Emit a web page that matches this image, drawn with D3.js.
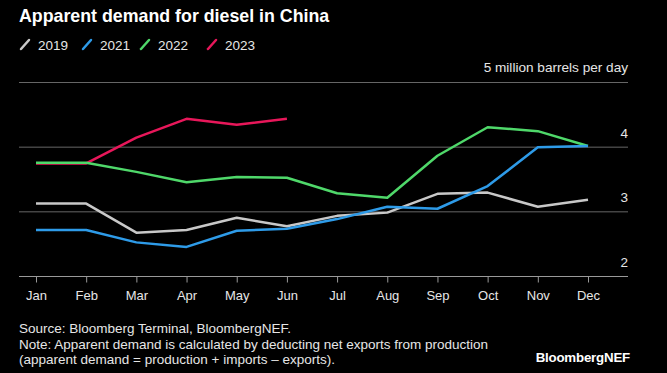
<!DOCTYPE html>
<html>
<head>
<meta charset="utf-8">
<script src="https://cdn.jsdelivr.net/npm/d3@7"></script>
<style>
  html, body { margin: 0; padding: 0; background: #000; }
  svg { display: block; }
</style>
</head>
<body>
<div id="chart"></div>
<script>
const months = ["Jan", "Feb", "Mar", "Apr", "May", "Jun", "Jul", "Aug", "Sep", "Oct", "Nov", "Dec"];
const years = ["2019", "2021", "2022", "2023"];
const colors = ["#c8c8c8", "#2e9be8", "#4fd86a", "#e8175a"];
const v2019 = [3.12, 3.12, 2.67, 2.71, 2.90, 2.77, 2.93, 2.98, 3.27, 3.29, 3.07, 3.18];
const v2021 = [2.71, 2.71, 2.52, 2.45, 2.70, 2.73, 2.88, 3.07, 3.04, 3.39, 3.99, 4.01];
const v2022 = [3.75, 3.75, 3.61, 3.45, 3.53, 3.52, 3.28, 3.21, 3.86, 4.30, 4.24, 4.01];
const v2023 = [3.74, 3.74, 4.14, 4.43, 4.34, 4.43];
const yTicks = [2, 3, 4, 5];

const width = 667;
const height = 373;

const series = [
  { year: "2023", values: v2023, color: colors[3] },
  { year: "2019", values: v2019, color: colors[0] },
  { year: "2022", values: v2022, color: colors[2] },
  { year: "2021", values: v2021, color: colors[1] }
];

const x = d3.scalePoint().domain(months).range([36, 588]);
const y = d3.scaleLinear().domain([2, 5]).range([276, 82]);

const svg = d3.select("#chart").append("svg")
    .attr("width", width)
    .attr("height", height)
    .style("font-family", "'Liberation Sans', Arial, sans-serif");

svg.append("rect").attr("width", width).attr("height", height).attr("fill", "#000");

svg.append("text")
    .attr("x", 19).attr("y", 22)
    .attr("fill", "#fff")
    .attr("font-size", 17.8)
    .attr("font-weight", "bold")
    .text("Apparent demand for diesel in China");

// legend
const legend = svg.append("g").attr("transform", "translate(20,45)");
const legendX = [0, 62, 120, 187];
years.forEach((yr, i) => {
  const g = legend.append("g").attr("transform", `translate(${legendX[i]},0)`);
  g.append("line")
      .attr("x1", 1).attr("y1", 4).attr("x2", 9).attr("y2", -5)
      .attr("stroke", colors[i]).attr("stroke-width", 2.5)
      .attr("stroke-linecap", "round");
  g.append("text")
      .attr("x", 18).attr("y", 5)
      .attr("fill", "#e6e6e6")
      .attr("font-size", 13.5)
      .text(yr);
});

// grid
svg.append("g")
  .selectAll("line")
  .data(yTicks.filter(d => d !== 2))
  .join("line")
    .attr("x1", 19).attr("x2", 628)
    .attr("y1", d => y(d) + 0.5).attr("y2", d => y(d) + 0.5)
    .attr("stroke", "#666").attr("stroke-width", 1);

svg.append("text")
    .attr("x", 628).attr("y", 72)
    .attr("text-anchor", "end")
    .attr("fill", "#e6e6e6")
    .attr("font-size", 13.6)
    .text("5 million barrels per day");

svg.append("g")
  .selectAll("text")
  .data(yTicks.filter(d => d !== 5))
  .join("text")
    .attr("x", 628).attr("y", d => y(d) - 9)
    .attr("text-anchor", "end")
    .attr("fill", "#e6e6e6")
    .attr("font-size", 13.5)
    .text(d => d);

// x axis
const xAxis = svg.append("g")
    .attr("transform", `translate(0,${y(2) + 0.5})`)
    .call(d3.axisBottom(x).tickSize(6).tickPadding(8));
xAxis.select(".domain").attr("d", "M19,0H628").attr("stroke", "#999");
xAxis.selectAll(".tick line").attr("stroke", "#999");
xAxis.selectAll(".tick text")
    .attr("fill", "#e6e6e6")
    .attr("font-size", 13)
    .attr("font-family", "'Liberation Sans', Arial, sans-serif");

// lines
const line = d3.line()
    .x((d, i) => x(months[i]))
    .y(d => y(d));

svg.append("g")
  .selectAll("path")
  .data(series)
  .join("path")
    .attr("fill", "none")
    .attr("stroke", d => d.color)
    .attr("stroke-width", 2.5)
    .attr("stroke-linejoin", "round")
    .attr("d", d => line(d.values));

// footer
const notes = [
  "Source: Bloomberg Terminal, BloombergNEF.",
  "Note: Apparent demand is calculated by deducting net exports from production",
  "(apparent demand = production + imports \u2013 exports)."
];
svg.append("g")
  .selectAll("text")
  .data(notes)
  .join("text")
    .attr("x", 19).attr("y", (d, i) => 333 + i * 15.5)
    .attr("fill", "#e6e6e6")
    .attr("font-size", 13.5)
    .text(d => d);

svg.append("text")
    .attr("x", 630).attr("y", 362)
    .attr("text-anchor", "end")
    .attr("fill", "#fff")
    .attr("font-size", 13.3)
    .attr("font-weight", "bold")
    .attr("letter-spacing", -0.2)
    .text("BloombergNEF");
</script>
</body>
</html>
